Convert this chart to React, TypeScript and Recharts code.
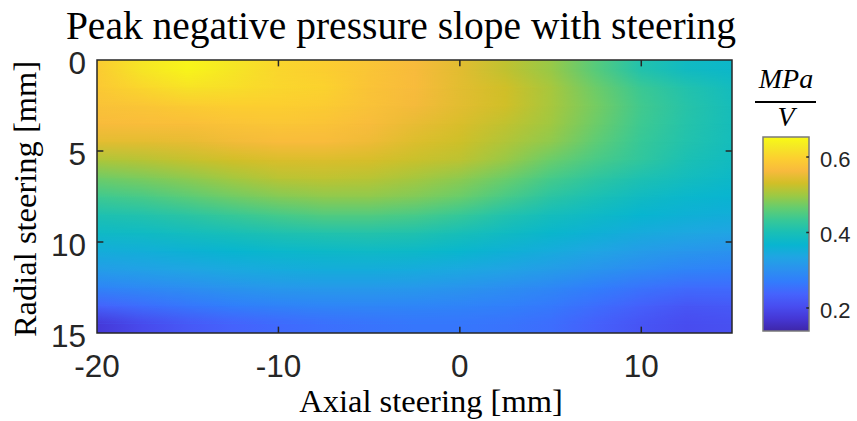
import { ComposedChart, XAxis, YAxis, ReferenceArea, ReferenceLine, Scatter } from 'recharts';

// axial positions (mm) where each row was read
const axialMm = [-20, -17.5, -15, -12.5, -10, -7.5, -5, -2.5, 0, 2.5, 5, 7.5, 10, 12.5, 15];
// radial depth (mm) of each row centre
const radialMm = [0.5, 1.5, 2.5, 3.5, 4.5, 5.5, 6.5, 7.5, 8.5, 9.5, 10.5, 11.5, 12.5, 13.5, 14.5];
// peak negative pressure slope [MPa/V], one row per radial depth
const slope = [
  [0.59, 0.625, 0.645, 0.625, 0.605, 0.595, 0.58, 0.565, 0.545, 0.52, 0.495, 0.455, 0.41, 0.385, 0.375],
  [0.585, 0.605, 0.62, 0.615, 0.605, 0.6, 0.578, 0.565, 0.545, 0.53, 0.505, 0.47, 0.435, 0.41, 0.39],
  [0.575, 0.58, 0.59, 0.595, 0.595, 0.59, 0.575, 0.56, 0.545, 0.53, 0.505, 0.475, 0.44, 0.415, 0.395],
  [0.565, 0.568, 0.57, 0.577, 0.582, 0.578, 0.566, 0.55, 0.537, 0.52, 0.5, 0.47, 0.437, 0.413, 0.395],
  [0.545, 0.545, 0.548, 0.557, 0.565, 0.565, 0.555, 0.54, 0.528, 0.51, 0.49, 0.46, 0.432, 0.41, 0.393],
  [0.507, 0.513, 0.522, 0.53, 0.537, 0.538, 0.535, 0.525, 0.517, 0.495, 0.468, 0.445, 0.425, 0.402, 0.387],
  [0.47, 0.478, 0.488, 0.502, 0.514, 0.518, 0.514, 0.503, 0.489, 0.469, 0.443, 0.423, 0.404, 0.39, 0.378],
  [0.438, 0.445, 0.458, 0.472, 0.483, 0.49, 0.49, 0.482, 0.468, 0.445, 0.42, 0.402, 0.385, 0.373, 0.366],
  [0.405, 0.41, 0.42, 0.433, 0.443, 0.452, 0.452, 0.445, 0.432, 0.41, 0.392, 0.38, 0.368, 0.358, 0.352],
  [0.38, 0.383, 0.39, 0.398, 0.405, 0.41, 0.412, 0.408, 0.398, 0.385, 0.372, 0.358, 0.346, 0.338, 0.333],
  [0.35, 0.353, 0.36, 0.368, 0.373, 0.378, 0.38, 0.377, 0.37, 0.358, 0.347, 0.334, 0.32, 0.31, 0.304],
  [0.322, 0.328, 0.335, 0.342, 0.347, 0.35, 0.35, 0.347, 0.34, 0.332, 0.32, 0.307, 0.293, 0.282, 0.278],
  [0.282, 0.29, 0.298, 0.307, 0.313, 0.316, 0.316, 0.313, 0.307, 0.298, 0.287, 0.273, 0.258, 0.248, 0.248],
  [0.235, 0.25, 0.262, 0.272, 0.279, 0.283, 0.285, 0.283, 0.28, 0.275, 0.265, 0.25, 0.233, 0.218, 0.222],
  [0.175, 0.2, 0.22, 0.235, 0.245, 0.253, 0.258, 0.262, 0.262, 0.258, 0.25, 0.233, 0.215, 0.203, 0.208],
];

const xTicks = [-20, -10, 0, 10];
const yTicks = [0, 5, 10, 15];
const cbTicks = [0.2, 0.4, 0.6];
const xDomain = [-20, 15];
const yDomain = [0, 15];
const cLim = [0.139, 0.653];

// parula, sampled
const parula = [
  '#3e26a8', '#4537d5', '#484df0', '#4563fd', '#327cfc', '#2b91ef', '#20a5e3', '#08b5d0',
  '#19bfb6', '#37c897', '#64cd6f', '#9dc943', '#d1bf27', '#f8ba3d', '#fccf30', '#f5e924', '#f9fb15',
];
const parulaPos = [0, 4, 8, 12, 16, 20, 24, 28, 32, 36, 40, 44, 48, 52, 56, 60, 63].map((i) => i / 63);

const W = 857;
const H = 421;
const axisColor = '#262626';
const sans = '"Liberation Sans", Arial, Helvetica, sans-serif';
const serif = '"Liberation Serif", "Times New Roman", serif';

function hexRgb(h: string) {
  return [1, 3, 5].map((i) => parseInt(h.slice(i, i + 2), 16));
}

function colour(v: number) {
  let t = (v - cLim[0]) / (cLim[1] - cLim[0]);
  t = Math.max(0, Math.min(1, t));
  let k = 0;
  while (k < parulaPos.length - 2 && t > parulaPos[k + 1]) k++;
  const f = (t - parulaPos[k]) / (parulaPos[k + 1] - parulaPos[k]);
  const a = hexRgb(parula[k]);
  const b = hexRgb(parula[k + 1]);
  const c = a.map((x, i) => Math.round(x + (b[i] - x) * f));
  return `rgb(${c[0]},${c[1]},${c[2]})`;
}

const stopOffset = (x: number) => (x - xDomain[0]) / (xDomain[1] - xDomain[0]);

// bands overlap the next one by a pixel so no hairline gap shows
const rowShape = (fill: string, mask?: string, grow = 1) => (p: any) => (
  <rect x={p.x} y={p.y} width={p.width} height={p.height + grow} fill={fill} mask={mask} />
);

const YTick = ({ x, y, payload }: any) => (
  <text x={x} y={y + 3} dy="0.355em" textAnchor="end" fill={axisColor} fontSize={31.5} fontFamily={sans}>
    {payload.value}
  </text>
);

const CbTick = ({ x, y, payload }: any) => (
  <text x={x} y={y + 2} dy="0.355em" textAnchor="start" fill={axisColor} fontSize={22} fontFamily={sans}>
    {payload.value}
  </text>
);

// sample points of the grid (kept invisible, they only feed the axes)
const nodes = radialMm.flatMap((y, r) => axialMm.map((x, i) => ({ x, y, v: slope[r][i] })));
const cbNodes = cLim.map((v) => ({ x: 0.5, y: v }));

export default function App() {
  const last = radialMm.length - 1;
  // solid band: from a row centre down to the next centre (first/last rows also cover the edges)
  const bases = radialMm.map((y, r) => (
    <ReferenceArea
      key={`b${r}`}
      x1={xDomain[0]}
      x2={xDomain[1]}
      y1={r === 0 ? yDomain[0] : y}
      y2={r === last ? yDomain[1] : radialMm[r + 1]}
      shape={rowShape(`url(#row${r})`, undefined, r === last ? 0 : 1)}
    />
  ));
  // blend towards the next row
  const blends = radialMm.slice(0, last).map((y, r) => (
    <ReferenceArea
      key={`o${r}`}
      x1={xDomain[0]}
      x2={xDomain[1]}
      y1={y}
      y2={radialMm[r + 1]}
      shape={rowShape(`url(#row${r + 1})`, 'url(#fadeIn)', r === last - 1 ? 0 : 1)}
    />
  ));

  const tickLen = 0.35;
  const innerTicks = [
    ...xTicks.slice(1).map((x) => (
      <ReferenceLine key={`xb${x}`} segment={[{ x, y: yDomain[1] }, { x, y: yDomain[1] - tickLen }]} stroke={axisColor} strokeWidth={1.5} />
    )),
    ...xTicks.slice(1).map((x) => (
      <ReferenceLine key={`xt${x}`} segment={[{ x, y: yDomain[0] }, { x, y: yDomain[0] + tickLen }]} stroke={axisColor} strokeWidth={1.5} />
    )),
    ...yTicks.slice(1, -1).map((y) => (
      <ReferenceLine key={`yl${y}`} segment={[{ x: xDomain[0], y }, { x: xDomain[0] + tickLen, y }]} stroke={axisColor} strokeWidth={1.5} />
    )),
    ...yTicks.slice(1, -1).map((y) => (
      <ReferenceLine key={`yr${y}`} segment={[{ x: xDomain[1], y }, { x: xDomain[1] - tickLen, y }]} stroke={axisColor} strokeWidth={1.5} />
    )),
  ];

  return (
    <div style={{ position: 'absolute', left: 0, top: 0, width: W, height: H, background: '#fff' }}>
      <ComposedChart width={W} height={H} margin={{ top: 60, right: W - 732, bottom: H - 333 - 40, left: 97 - 60 }}>
        <defs>
          {slope.map((row, r) => (
            <linearGradient key={r} id={`row${r}`} x1="0" y1="0" x2="1" y2="0">
              {row.map((v, i) => (
                <stop key={i} offset={stopOffset(axialMm[i])} stopColor={colour(v)} />
              ))}
            </linearGradient>
          ))}
          <linearGradient id="ramp" x1="0" y1="0" x2="0" y2="1">
            <stop offset="0" stopColor="#000" />
            <stop offset="1" stopColor="#fff" />
          </linearGradient>
          <mask id="fadeIn" maskUnits="objectBoundingBox" maskContentUnits="objectBoundingBox" x="0" y="0" width="1" height="1">
            <rect x="0" y="0" width="1" height="1" fill="url(#ramp)" />
          </mask>
        </defs>
        <XAxis
          dataKey="x"
          type="number"
          domain={xDomain}
          ticks={xTicks}
          interval={0}
          allowDataOverflow
          height={40}
          axisLine={false}
          tickLine={false}
          tickSize={0}
          tickMargin={22}
          tick={{ fill: axisColor, fontSize: 31.5, fontFamily: sans }}
        />
        <YAxis
          dataKey="y"
          type="number"
          domain={yDomain}
          reversed
          ticks={yTicks}
          interval={0}
          allowDataOverflow
          width={60}
          axisLine={false}
          tickLine={false}
          tickSize={0}
          tickMargin={11}
          tick={<YTick />}
        />
        <Scatter data={nodes} dataKey="v" isAnimationActive={false} shape={() => <g />} />
        {bases}
        {blends}
        <ReferenceArea x1={xDomain[0]} x2={xDomain[1]} y1={yDomain[0]} y2={yDomain[1]} fill="none" fillOpacity={0} stroke={axisColor} strokeWidth={1.5} />
        {innerTicks}
      </ComposedChart>

      <div style={{ position: 'absolute', left: 0, top: 0 }}>
        <ComposedChart width={W} height={H} margin={{ top: 137, right: 0, bottom: H - 331, left: 763 }}>
          <defs>
            <linearGradient id="cbar" x1="0" y1="1" x2="0" y2="0">
              {parula.map((c, i) => (
                <stop key={i} offset={parulaPos[i]} stopColor={c} />
              ))}
            </linearGradient>
          </defs>
          <XAxis dataKey="x" type="number" domain={[0, 1]} hide allowDataOverflow />
          <YAxis
            dataKey="y"
            yAxisId="cb"
            orientation="right"
            type="number"
            domain={cLim}
            ticks={cbTicks}
            interval={0}
            allowDataOverflow
            width={48}
            axisLine={false}
            tickLine={false}
            tickSize={0}
            tickMargin={11}
            tick={<CbTick />}
          />
          <Scatter yAxisId="cb" data={cbNodes} isAnimationActive={false} shape={() => <g />} />
          <ReferenceArea yAxisId="cb" x1={0} x2={1} y1={cLim[0]} y2={cLim[1]} fill="url(#cbar)" fillOpacity={1} stroke="#7a7a7a" strokeWidth={1.5} />
          {cbTicks.map((v) => (
            <ReferenceLine key={v} yAxisId="cb" segment={[{ x: 1, y: v }, { x: 0.94, y: v }]} stroke={axisColor} strokeWidth={1.5} />
          ))}
        </ComposedChart>
      </div>

      <svg width={W} height={H} style={{ position: 'absolute', left: 0, top: 0, pointerEvents: 'none' }}>
        <text x={401} y={39} textAnchor="middle" fontFamily={serif} fontSize={39.5} fill="#000">
          Peak negative pressure slope with steering
        </text>
        <text x={431} y={412} textAnchor="middle" fontFamily={serif} fontSize={32.5} fill="#000">
          Axial steering [mm]
        </text>
        <text x={36} y={199} textAnchor="middle" fontFamily={serif} fontSize={32.5} fill="#000" transform="rotate(-90 36 199)">
          Radial steering [mm]
        </text>
        <text x={786} y={88} textAnchor="middle" fontFamily={serif} fontStyle="italic" fontSize={28} fill="#000">
          MPa
        </text>
        <line x1={755} x2={816} y1={102} y2={102} stroke="#000" strokeWidth={2} />
        <text x={786} y={126} textAnchor="middle" fontFamily={serif} fontStyle="italic" fontSize={28} fill="#000">
          V
        </text>
      </svg>
    </div>
  );
}
